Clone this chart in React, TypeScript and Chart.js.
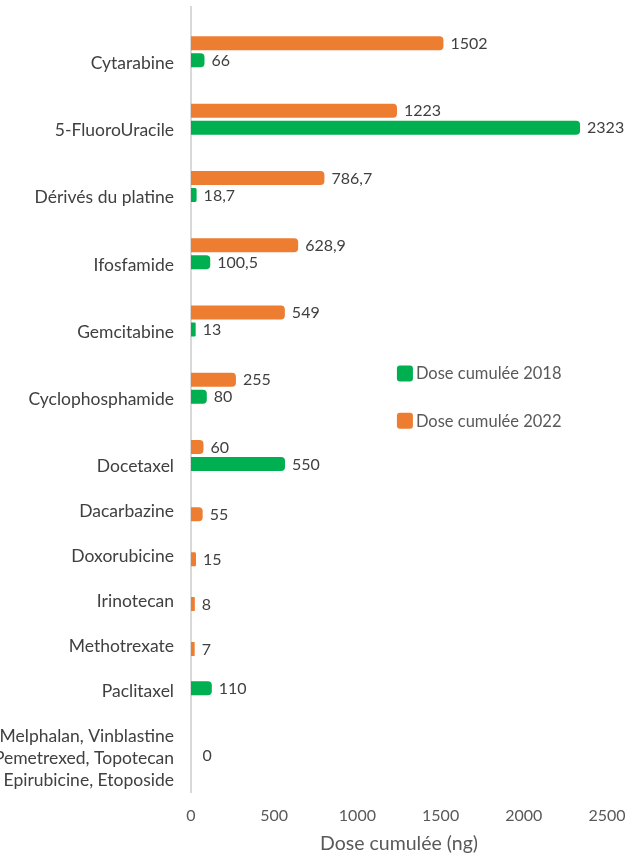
import React, { useEffect, useRef } from "react";
import { Chart, registerables } from "chart.js";

Chart.register(...registerables);

// ---- data ----
const categories: (string | string[])[] = [
  "Cytarabine",
  "5-FluoroUracile",
  "Dérivés du platine",
  "Ifosfamide",
  "Gemcitabine",
  "Cyclophosphamide",
  "Docetaxel",
  "Dacarbazine",
  "Doxorubicine",
  "Irinotecan",
  "Methotrexate",
  "Paclitaxel",
  ["Melphalan, Vinblastine", "Pemetrexed, Topotecan", "Epirubicine, Etoposide"],
];
const dose2018: (number | null)[] = [66, 2323, 18.7, 100.5, 13, 80, 550, null, null, null, null, 110, 0];
const dose2022: (number | null)[] = [1502, 1223, 786.7, 628.9, 549, 255, 60, 55, 15, 8, 7, null, null];
const seriesLabels = ["Dose cumulée 2018", "Dose cumulée 2022"];
const xTicks = [0, 500, 1000, 1500, 2000, 2500];
const xTitle = "Dose cumulée (ng)";

// ---- style ----
const GREEN = "#00B050";
const ORANGE = "#ED7D31";
const FONT = "Lato";
const FS_CAT = 17.5;
const FS_NUM = 16;
const FS_LEG = 16.5;

// Build row slots: each category gets one slot per present bar (2022 above 2018),
// followed by a spacer slot; multi-line labels get an extra leading spacer.
function buildSlots() {
  const labels: (string | string[])[] = [""];
  const s2018: (number | null)[] = [null];
  const s2022: (number | null)[] = [null];
  categories.forEach((cat, i) => {
    if (Array.isArray(cat)) {
      labels.push("");
      s2018.push(null);
      s2022.push(null);
    }
    const has22 = dose2022[i] !== null;
    const has18 = dose2018[i] !== null;
    if (has22) {
      labels.push(has18 ? "" : cat);
      s2022.push(dose2022[i]);
      s2018.push(null);
    }
    if (has18) {
      labels.push(cat);
      s2018.push(dose2018[i]);
      s2022.push(null);
    }
    labels.push("");
    s2018.push(null);
    s2022.push(null);
  });
  return { labels, s2018, s2022 };
}

const fmt = (v: number) => String(v).replace(".", ",");

const valueLabels = {
  id: "valueLabels",
  afterDatasetsDraw(chart: any) {
    const ctx = chart.ctx;
    ctx.save();
    ctx.font = `${FS_NUM}px ${FONT}`;
    ctx.fillStyle = "#404040";
    ctx.textAlign = "left";
    ctx.textBaseline = "middle";
    chart.data.datasets.forEach((ds: any, di: number) => {
      const meta = chart.getDatasetMeta(di);
      meta.data.forEach((el: any, j: number) => {
        const v = ds.data[j];
        if (v === null || v === undefined) return;
        ctx.fillText(fmt(v), el.x + (v === 0 ? 11.5 : 9.5), el.y + 0.5);
      });
    });
    ctx.restore();
  },
};

const sideLegend = {
  id: "sideLegend",
  afterDraw(chart: any) {
    const { ctx, chartArea } = chart;
    const w = chartArea.right - chartArea.left;
    const h = chartArea.bottom - chartArea.top;
    const x0 = chartArea.left + 0.495 * w;
    const y0 = chartArea.top + 0.467 * h;
    const step = 0.06 * h;
    const box = 16;
    ctx.save();
    ctx.font = `${FS_LEG}px ${FONT}`;
    ctx.textAlign = "left";
    ctx.textBaseline = "middle";
    chart.data.datasets.forEach((ds: any, i: number) => {
      const y = y0 + i * step;
      ctx.fillStyle = ds.backgroundColor;
      ctx.beginPath();
      (ctx as any).roundRect(x0, y - box / 2, box, box, 3);
      ctx.fill();
      ctx.fillStyle = "#595959";
      ctx.fillText(ds.label, x0 + box + 3, y + 0.5);
    });
    ctx.restore();
  },
};

export default function App() {
  const ref = useRef<HTMLCanvasElement>(null);
  useEffect(() => {
    const { labels, s2018, s2022 } = buildSlots();
    const barCommon = {
      categoryPercentage: 0.484,
      barPercentage: 1.657,
      inflateAmount: (c: any) => (c.raw === 0 ? 0 : 2.5),
      borderRadius: 4,
      borderWidth: 0,
    };
    const chart = new Chart(ref.current as HTMLCanvasElement, {
      type: "bar",
      data: {
        labels,
        datasets: [
          { label: seriesLabels[0], data: s2018, backgroundColor: GREEN, ...barCommon },
          { label: seriesLabels[1], data: s2022, backgroundColor: ORANGE, ...barCommon },
        ] as any,
      },
      options: {
        indexAxis: "y",
        animation: false,
        responsive: false,
        layout: { padding: { top: 7, right: 37, bottom: 0, left: 0 } },
        plugins: { legend: { display: false }, tooltip: { enabled: false } },
        scales: {
          x: {
            type: "linear",
            min: xTicks[0],
            max: xTicks[xTicks.length - 1],
            afterBuildTicks: (scale: any) => {
              scale.ticks = xTicks.map((v) => ({ value: v }));
            },
            afterFit: (scale: any) => {
              scale.height = 65;
              scale.paddingLeft = 0;
              scale.paddingRight = 0;
            },
            grid: { display: false, drawTicks: false },
            border: { display: false },
            ticks: {
              color: "#595959",
              font: { family: FONT, size: FS_NUM },
              padding: 14,
              maxRotation: 0,
              callback: (v: any) => String(v),
            },
            title: {
              display: true,
              text: xTitle,
              color: "#595959",
              font: { family: FONT, size: 19.5 },
              padding: { top: 0, bottom: 2 },
            },
          },
          y: {
            type: "category",
            z: 1,
            afterFit: (scale: any) => {
              scale.width = 191;
              scale.paddingTop = 0;
              scale.paddingBottom = 0;
            },
            grid: { display: false, drawTicks: false },
            border: { display: true, color: "#D9D9D9", width: 2 },
            ticks: {
              autoSkip: false,
              color: "#404040",
              padding: 17,
              font: { family: FONT, size: FS_CAT, lineHeight: 22 / FS_CAT },
            },
          },
        },
      } as any,
      plugins: [valueLabels, sideLegend],
    });
    return () => chart.destroy();
  }, []);
  return (
    <div style={{ position: "absolute", left: 0, top: 0, width: 644, height: 857, background: "#fff" }}>
      <canvas ref={ref} width={644} height={857} style={{ display: "block" }} />
    </div>
  );
}
